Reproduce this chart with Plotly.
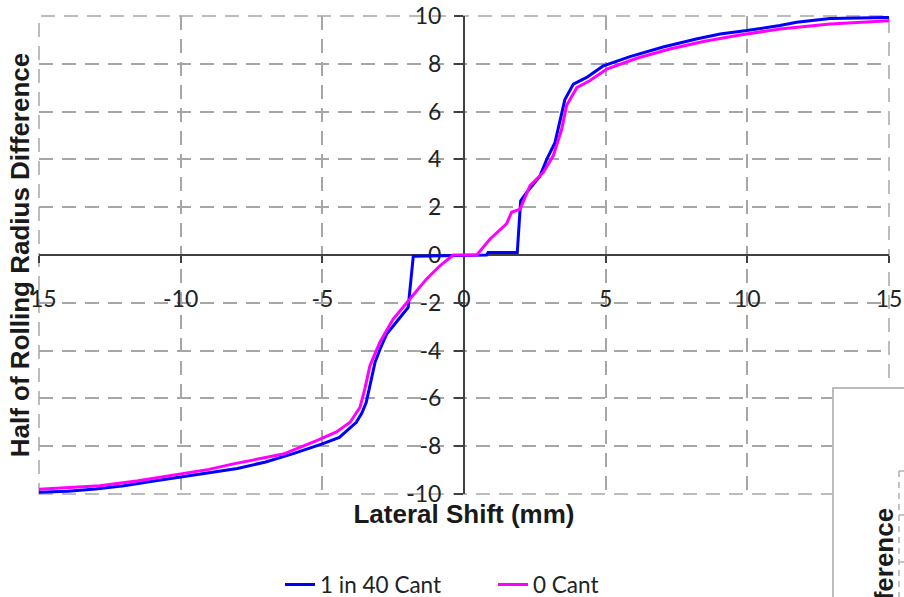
import plotly.graph_objects as go

# ---- data ----
cant40_x = [-15, -14, -13, -12, -11, -10, -9, -8, -7, -6, -5, -4.4, -3.8, -3.6, -3.45, -3.3,
            -3.14, -2.95, -2.73, -2.35, -1.97, -1.79, -1.0, 0.0, 0.8, 0.85, 1.88, 2.0, 2.2,
            2.68, 2.92, 3.21, 3.45, 3.56, 3.86, 4.33, 4.9, 5.86, 7.03, 8.2, 9.04, 9.98,
            11.15, 11.74, 12.92, 15]
cant40_y = [-9.93, -9.88, -9.79, -9.65, -9.47, -9.3, -9.12, -8.93, -8.66, -8.3, -7.9, -7.63,
            -7.0, -6.6, -6.16, -5.3, -4.49, -3.9, -3.31, -2.75, -2.19, -0.05, -0.03, 0.0,
            0.0, 0.1, 0.1, 2.27, 2.6, 3.3, 4.0, 4.7, 5.97, 6.5, 7.15, 7.43, 7.9, 8.3, 8.7,
            9.04, 9.25, 9.39, 9.6, 9.74, 9.9, 9.94]

cant0_x = [-15, -14, -12.85, -11.5, -9.9, -9, -8.14, -7.2, -6.38, -5.2, -4.5, -4.02, -3.67,
           -3.5, -3.32, -2.97, -2.5, -1.91, -1.32, -0.85, -0.38, 0.45, 0.92, 1.5, 1.68,
           1.98, 2.33, 2.8, 3.15, 3.45, 3.62, 3.98, 4.45, 5.04, 6.1, 7.27, 8.45, 9.63,
           11.15, 12.92, 15]
cant0_y = [-9.8, -9.74, -9.65, -9.45, -9.16, -8.97, -8.74, -8.52, -8.33, -7.77, -7.4, -7.0,
           -6.37, -5.6, -4.63, -3.65, -2.68, -1.84, -1.0, -0.45, 0.0, 0.0, 0.67, 1.3, 1.79,
           1.92, 2.9, 3.46, 4.15, 5.27, 6.25, 7.0, 7.3, 7.78, 8.23, 8.62, 8.93, 9.18, 9.46,
           9.67, 9.8]

series_names = ["1 in 40 Cant", "0 Cant"]
series_colors = ["#0000ff", "#ff00ff"]

x_range = [-15, 15]
y_range = [-10, 10]
x_tickvals = [-15, -10, -5, 0, 5, 10, 15]
x_ticktext = ["-15", "-10", "-5", "0", "5", "10", "15"]
y_tickvals = [-10, -8, -6, -4, -2, 0, 2, 4, 6, 8, 10]
y_ticktext = ["-10", "-8", "-6", "-4", "-2", "0", "2", "4", "6", "8", "10"]

x_title = "Lateral Shift (mm)"
y_title = "Half of Rolling Radius Difference"

TITLE_FONT = dict(family="Liberation Sans, Arial", size=26, color="#1a1a1a", weight="bold")
TICK_FONT = dict(family="Lato, Open Sans", size=23, color="#222222")
GRID_COLOR = "#a6a6a6"
GRID = dict(showgrid=True, gridcolor=GRID_COLOR, gridwidth=1.5, griddash="14px,9px")
AXIS_DARK = "#404040"

W, H = 904, 597
PL, PT, PW, PH = 39, 16, 850, 478   # plot area in window pixels


def px_x(p):
    return (p - PL) / PW


def px_y(p):
    return (PT + PH - p) / PH


fig = go.Figure()
# empty trace so the base (grid + titles) subplot is created
fig.add_trace(go.Scatter(x=[], y=[], xaxis="x", yaxis="y", showlegend=False,
                         hoverinfo="skip", mode="lines"))
for xs, ys, name, col in [(cant40_x, cant40_y, series_names[0], series_colors[0]),
                          (cant0_x, cant0_y, series_names[1], series_colors[1])]:
    fig.add_trace(go.Scatter(x=xs, y=ys, mode="lines", name=name,
                             line=dict(color=col, width=3),
                             xaxis="x2", yaxis="y2"))

fig.update_layout(
    width=W, height=H,
    margin=dict(l=PL, r=W - PL - PW, t=PT, b=H - PT - PH, autoexpand=False),
    paper_bgcolor="white", plot_bgcolor="white",
    xaxis=dict(range=x_range, tickvals=x_tickvals, showticklabels=False, ticks="",
               showline=False, zeroline=False, automargin=False, **GRID,
               title=dict(text=x_title, font=TITLE_FONT, standoff=10)),
    yaxis=dict(range=y_range, tickvals=y_tickvals, showticklabels=False, ticks="",
               showline=False, zeroline=False, automargin=False, **GRID,
               title=dict(text=y_title, font=TITLE_FONT, standoff=0)),
    xaxis2=dict(range=x_range, tickvals=x_tickvals, ticktext=x_ticktext, overlaying="x",
                anchor="free", position=0.5, showgrid=False, zeroline=False, showline=True,
                linecolor=AXIS_DARK, linewidth=2, ticks="outside", ticklen=7,
                tickwidth=2, tickcolor=AXIS_DARK, tickfont=TICK_FONT, automargin=False,
                ticklabelstandoff=16, ticklabeloverflow="allow", layer="below traces"),
    yaxis2=dict(range=y_range, tickvals=y_tickvals, ticktext=y_ticktext, overlaying="y",
                anchor="free", position=0.5, side="left", showgrid=False, zeroline=False,
                showline=True, linecolor=AXIS_DARK, linewidth=2, ticks="outside",
                ticklen=9, tickwidth=2, tickcolor=AXIS_DARK, tickfont=TICK_FONT,
                automargin=False, ticklabelstandoff=8, ticklabeloverflow="allow",
                layer="below traces"),
    legend=dict(orientation="h", x=px_x(280), xanchor="left", y=-0.19,
                yanchor="middle", entrywidth=168,
                font=dict(family="Lato, Open Sans", size=22.5, color="#222222"),
                bgcolor="rgba(0,0,0,0)"),
    showlegend=True,
)

# dashed frame of the plot area (outer grid lines)
fig.add_shape(type="rect", xref="paper", yref="paper", x0=0, x1=1, y0=0, y1=1,
              line=dict(color=GRID_COLOR, width=1.5, dash="14px,9px"), layer="below")

# overlapping window of another chart in the lower-right corner
fig.add_shape(type="rect", xref="paper", yref="paper",
              x0=px_x(833), x1=1.1, y0=-0.3, y1=px_y(388),
              line=dict(color="#bdbdbd", width=2), fillcolor="white", layer="above")
fig.add_shape(type="line", xref="paper", yref="paper",
              x0=px_x(899), x1=px_x(899), y0=px_y(471), y1=-0.3,
              line=dict(color="#b0b0b0", width=1.5, dash="6px,5px"), layer="above")
for py in [471, 515, 562]:
    fig.add_shape(type="line", xref="paper", yref="paper",
                  x0=px_x(899), x1=px_x(906), y0=px_y(py), y1=px_y(py),
                  line=dict(color="#b0b0b0", width=1.5), layer="above")
fig.add_annotation(text="Difference", xref="paper", yref="paper",
                   x=px_x(884), y=px_y(572), textangle=-90,
                   showarrow=False, font=TITLE_FONT, xanchor="center", yanchor="middle")

# remove the browser's default 8px body margin so the figure fills the window
fig.write_html("out.html",
               config={"displayModeBar": False},
               post_script="document.body.style.margin='0';"
                           "document.body.style.overflow='hidden';")
